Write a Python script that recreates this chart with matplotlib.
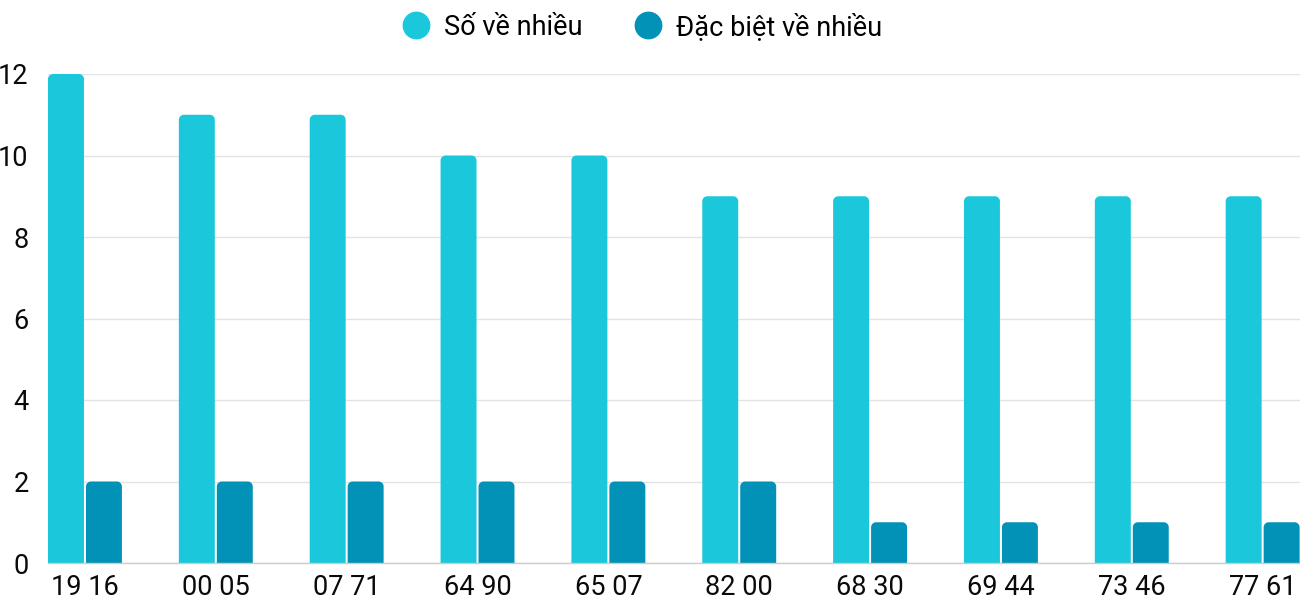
import matplotlib
matplotlib.use("Agg")
import matplotlib.pyplot as plt
from matplotlib.path import Path
from matplotlib.patches import PathPatch
from matplotlib.lines import Line2D

categories = ["19 16", "00 05", "07 71", "64 90", "65 07", "82 00", "68 30", "69 44", "73 46", "77 61"]
so_ve_nhieu = [12, 11, 11, 10, 10, 9, 9, 9, 9, 9]
dac_biet = [2, 2, 2, 2, 2, 2, 1, 1, 1, 1]
series_names = ["Số về nhiều", "Đặc biệt về nhiều"]
colors = ["#1BC8DB", "#0392B7"]

plt.rcParams['font.family'] = ['Roboto', 'DejaVu Sans']

W, H, DPI = 1300, 600, 100
fig = plt.figure(figsize=(W / DPI, H / DPI), dpi=DPI)
left_px, right_px, top_px, bottom_px = 48, 1300, 74, 563
ax = fig.add_axes([left_px / W, (H - bottom_px) / H, (right_px - left_px) / W, (bottom_px - top_px) / H])

unit_px = 131.0
bar_w = 36 / unit_px
gap = 2 / unit_px
half_group = bar_w + gap / 2
ax.set_xlim(-half_group, len(categories) - 1 + half_group + 0.003)
ax.set_ylim(0, 12)

x_per_px = 1 / unit_px
y_per_px = 12 / (bottom_px - top_px)
r_px = 5
rx, ry = r_px * x_per_px, r_px * y_per_px
k = 0.5523


def rounded_bar(x0, w, h, color):
    x1 = x0 + w
    ryy = min(ry, h / 2)
    verts = [
        (x0, 0), (x0, h - ryy),
        (x0, h - ryy + k * ryy), (x0 + rx - k * rx, h), (x0 + rx, h),
        (x1 - rx, h),
        (x1 - rx + k * rx, h), (x1, h - ryy + k * ryy), (x1, h - ryy),
        (x1, 0), (x0, 0),
    ]
    codes = [Path.MOVETO, Path.LINETO,
             Path.CURVE4, Path.CURVE4, Path.CURVE4,
             Path.LINETO,
             Path.CURVE4, Path.CURVE4, Path.CURVE4,
             Path.LINETO, Path.CLOSEPOLY]
    p = PathPatch(Path(verts, codes), facecolor=color, edgecolor='none', zorder=3, clip_on=False)
    ax.add_patch(p)


for i, (a, b) in enumerate(zip(so_ve_nhieu, dac_biet)):
    rounded_bar(i - gap / 2 - bar_w, bar_w, a, colors[0])
    rounded_bar(i + gap / 2, bar_w, b, colors[1])

ax.set_yticks(range(0, 13, 2))
ax.set_xticks(range(len(categories)))
ax.set_xticklabels(categories)
ax.grid(axis='y', color='#E3E3E3', linewidth=1, zorder=0)
ax.set_axisbelow(True)
for s in ['top', 'right', 'left']:
    ax.spines[s].set_visible(False)
ax.spines['bottom'].set_color('#CCCCCC')
ax.spines['bottom'].set_linewidth(1)
ax.spines['bottom'].set_zorder(4)
ax.tick_params(axis='both', length=0, labelsize=19.5, colors='#0A0A0A')
ax.tick_params(axis='y', pad=14)
ax.tick_params(axis='x', pad=8)

handles = [Line2D([0], [0], marker='o', linestyle='none', markersize=19,
                  markerfacecolor=c, markeredgecolor=c) for c in colors]
fig.legend(handles, series_names, loc='center', bbox_to_anchor=(0.494, 1 - 27 / H),
           ncol=2, frameon=False, fontsize=19.5, handletextpad=0.55, columnspacing=1.9,
           handlelength=1.0)

fig.savefig("out.png", dpi=DPI)
